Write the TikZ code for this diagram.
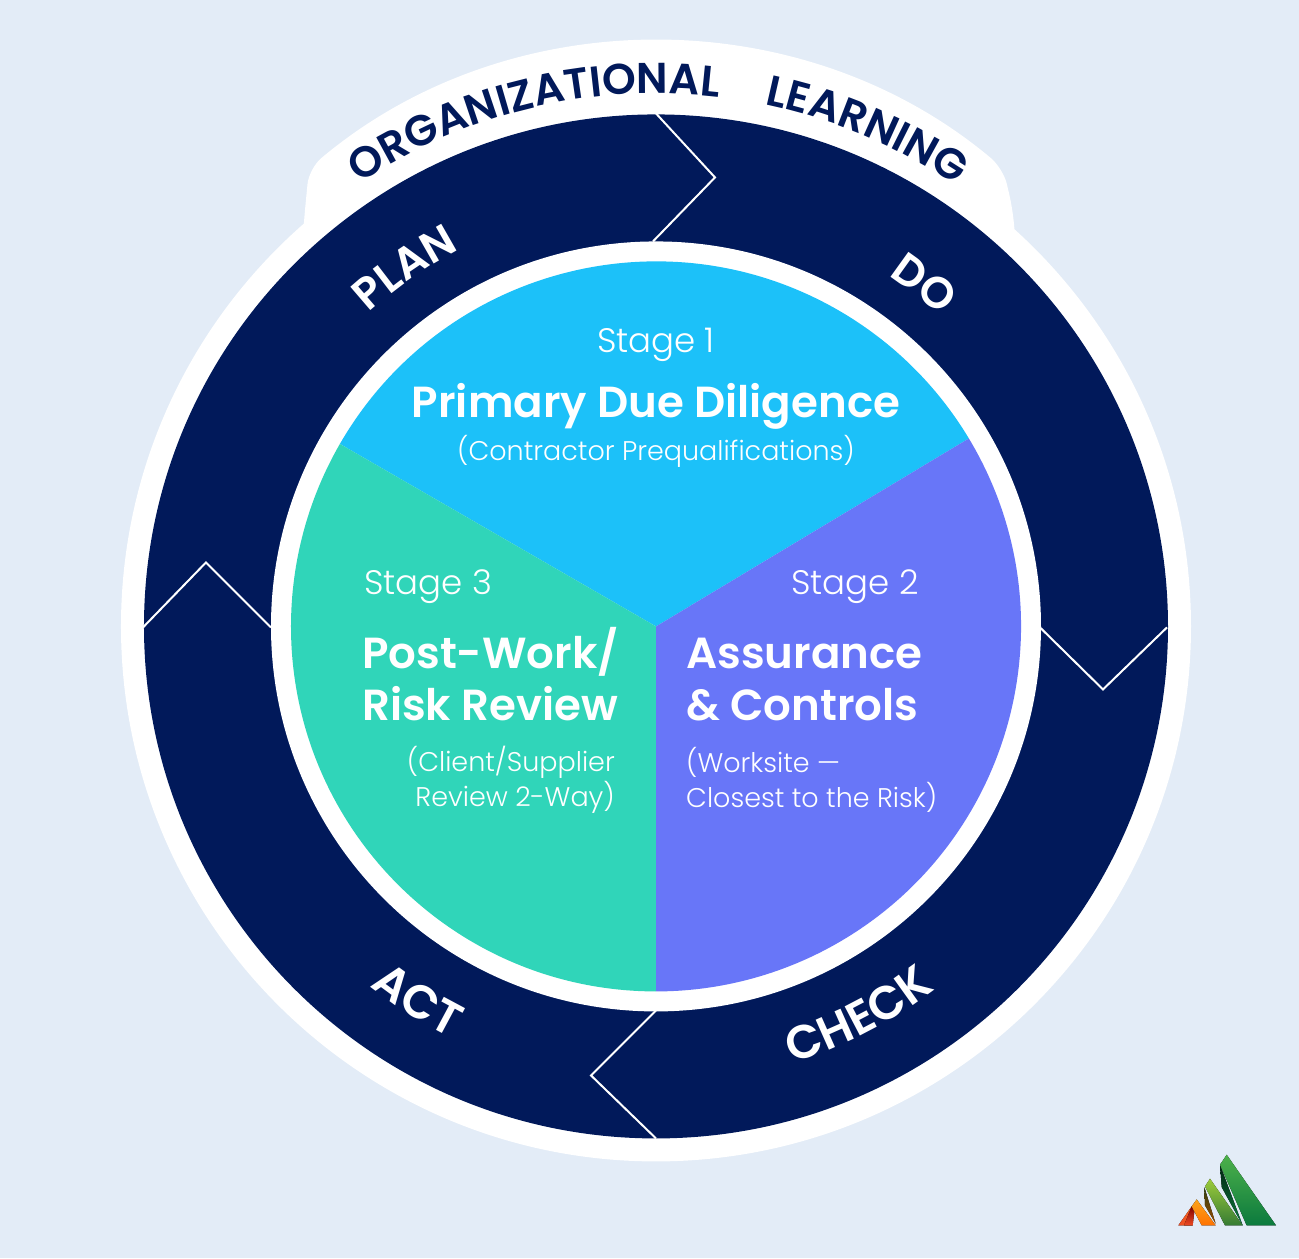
\documentclass[tikz,border=0pt]{standalone}
\usepackage{fontspec}
\setmainfont{Poppins}
\newfontfamily\poplight{Poppins Light}
\newfontfamily\popsemi{Poppins SemiBold}
\newfontfamily\popring[LetterSpace=6]{Poppins SemiBold}
\newfontfamily\popwide[LetterSpace=9]{Poppins SemiBold}
\newfontfamily\popwider[LetterSpace=13]{Poppins SemiBold}
\usetikzlibrary{decorations.text}
\definecolor{pagebg}{HTML}{E3ECF7}
\definecolor{navy}{HTML}{01195A}
\definecolor{stageone}{HTML}{1CC1F9}
\definecolor{stagetwo}{HTML}{6876F8}
\definecolor{stagethree}{HTML}{30D5B9}
\definecolor{logogreen}{HTML}{4DB04A}
\definecolor{logodeep}{HTML}{0B7A3E}
\definecolor{logolime}{HTML}{9CCB3B}
\definecolor{logoorange}{HTML}{FBA31C}
\definecolor{logored}{HTML}{EE4B23}
\tikzstyle{stage}=[text=white, inner sep=0pt, font=\poplight\fontsize{34}{40}\selectfont]
\tikzstyle{title}=[text=white, inner sep=0pt, font=\popsemi\fontsize{43.5}{52}\selectfont, align=left]
\tikzstyle{note}=[text=white, inner sep=0pt, font=\poplight\fontsize{27}{35}\selectfont]
\tikzstyle{chevron}=[draw=white, line width=2pt, line join=miter]
\begin{document}
\begin{tikzpicture}[x=1pt, y=1pt]
    \fill[pagebg] (-656,-632) rectangle (643,626);
    % White backing and its tab
    \fill[white] (0,0) circle (535pt);
    \fill[white, rounded corners=16pt] (-356,350) -- (-352,406) -- (-347,458) arc (130:50:540) -- (357,416) -- (362,350) -- cycle;
    \fill[navy] (0,0) circle (512pt);
    \fill[white] (0,0) circle (385pt);

    % Stages
    \fill[stageone] (0,0) -- (150:365pt) arc (150:31:365pt) -- cycle;
    \fill[stagetwo] (0,0) -- (31:365pt) arc (31:-90:365pt) -- cycle;
    \fill[stagethree] (0,0) -- (-90:365pt) arc (-90:-210:365pt) -- cycle;

    % Chevrons between the ring parts
    \coordinate (t1) at (0,513);   \coordinate (t2) at (59,449);   \coordinate (t3) at (-3,385);
    \coordinate (r1) at (384,-1);  \coordinate (r2) at (447,-63);  \coordinate (r3) at (511,-1);
    \coordinate (b1) at (0,-384);  \coordinate (b2) at (-65,-449); \coordinate (b3) at (0,-512);
    \coordinate (l1) at (-513,-1); \coordinate (l2) at (-450,64);  \coordinate (l3) at (-385,-1);
    \draw[chevron] (t1) -- (t2) -- (t3);
    \draw[chevron] (r1) -- (r2) -- (r3);
    \draw[chevron] (b1) -- (b2) -- (b3);
    \draw[chevron] (l1) -- (l2) -- (l3);

    % Ring labels
    \path[decorate, decoration={text along path, text align={center}, text color=navy,
      text={|\popring\fontsize{43}{43}\selectfont|ORGANIZATIONAL}}]
      (143.5:533pt) arc (143.5:63.5:533pt);
    \path[decorate, decoration={text along path, text align={center}, text color=navy,
      text={|\popring\fontsize{43}{43}\selectfont|LEARNING}}]
      (107:533pt) arc (107:27:533pt);
    \path[decorate, decoration={text along path, text align={center}, text color=white,
      text={|\popwide\fontsize{44}{44}\selectfont|PLAN}}]
      (160:425pt) arc (160:90:425pt);
    \path[decorate, decoration={text along path, text align={center}, text color=white,
      text={|\popwide\fontsize{44}{44}\selectfont|DO}}]
      (87:421pt) arc (87:17:421pt);
    \path[decorate, decoration={text along path, text align={center}, text color=white,
      text={|\popwider\fontsize{47}{47}\selectfont|CHECK}}]
      (-100.5:458pt) arc (-100.5:-24.5:458pt);
    \path[decorate, decoration={text along path, text align={center}, text color=white,
      text={|\popwider\fontsize{47}{47}\selectfont|ACT}}]
      (-157.5:460pt) arc (-157.5:-87.5:460pt);

    % Stage texts
    \node[stage] (s1) at (0,282) {Stage 1};
    \node[title] (t1name) at (0,220) {Primary Due Diligence};
    \node[note] (n1) at (0,175) {(Contractor Prequalifications)};

    \node[stage] (s2) at (199,40) {Stage 2};
    \node[title, anchor=west] (t2name) at (30,-53) {Assurance\\[0pt]\& Controls};
    \node[note, anchor=west, align=left] (n2) at (30,-153) {(Worksite —\\Closest to the Risk)};

    \node[stage] (s3) at (-228,40) {Stage 3};
    \node[title, anchor=west] (t3name) at (-294,-48) {Post-Work/\\[0pt]Risk Review};
    \node[note, anchor=east, align=right] (n3) at (-41,-153) {(Client/Supplier\\Review 2-Way)};

    % Logo
    \fill[left color=logored, right color=logored!70!logoorange] (522.3,-599) -- (535.7,-580) -- (536.7,-599) -- cycle;
    \fill[top color=red!50!black, bottom color=logored] (535.7,-580) -- (538.3,-585.7) -- (536.7,-599) -- (528,-599) -- cycle;
    \fill[top color=logoorange, bottom color=orange!90!red] (540.7,-573) -- (559.7,-599) -- (545.7,-599) -- (535.7,-580) -- cycle;
    \fill[top color=black!70!logolime, bottom color=orange!60!black] (548.3,-560.7) -- (559.7,-597.3) -- (549,-579) -- cycle;
    \fill[top color=logolime, bottom color=logogreen!70!black] (554,-552.3) -- (586.7,-599) -- (569,-599) -- (549,-560) -- cycle;
    \fill[top color=black!70!logodeep, bottom color=logodeep] (564,-538.3) -- (586.7,-599) -- (565.7,-560.7) -- cycle;
    \fill[top color=logogreen, bottom color=logodeep] (570.7,-528.3) -- (620,-599) -- (590.7,-599) -- (564,-538.3) -- cycle;
\end{tikzpicture}
\end{document}
